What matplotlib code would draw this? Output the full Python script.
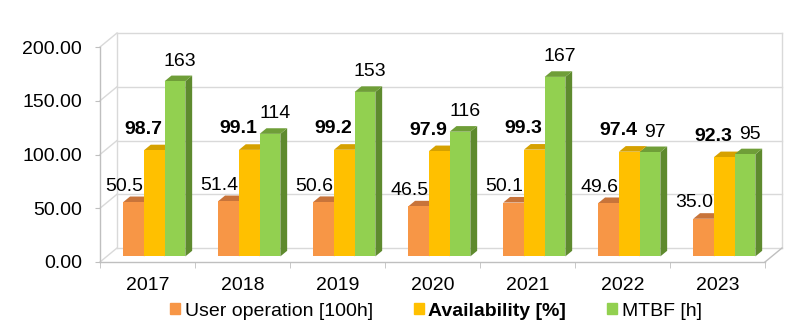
import matplotlib
matplotlib.use("Agg")
import matplotlib.pyplot as plt
from matplotlib.patches import Polygon, Patch

plt.rcParams['font.family'] = ['Liberation Sans', 'DejaVu Sans']

# data
years = ['2017', '2018', '2019', '2020', '2021', '2022', '2023']
user_op = [50.5, 51.4, 50.6, 46.5, 50.1, 49.6, 35.0]
avail = [98.7, 99.1, 99.2, 97.9, 99.3, 97.4, 92.3]
mtbf = [163, 114, 153, 116, 167, 97, 95]
labels = ['User operation [100h]', 'Availability [%]', 'MTBF [h]']
yticks = [0, 50, 100, 150, 200]

# colours: front, top, side
cols = [('#F79646', '#C8743A', '#B3622C'),
        ('#FFC000', '#D6A100', '#C79400'),
        ('#92D050', '#6F9E38', '#5E8A2E')]

W, H = 807, 330
fig = plt.figure(figsize=(W / 100, H / 100), dpi=100)
L, R, B, T = 100, 765, 262, 47
ax = fig.add_axes([L / W, (H - B) / H, (R - L) / W, (B - T) / H])
ax.set_xlim(-0.5, 6.5)
ax.set_ylim(0, 200)
xpx = 7.0 / (R - L)      # data units per pixel
ypx = 200.0 / (B - T)

DX, DY = 17 * xpx, 14 * ypx       # depth of the box
grid_c = '#d9d9d9'
edge_c = '#bfbfbf'
x0, x1 = -0.5, 6.5
FS = 14

# walls
for v in yticks:
    ax.plot([x0, x0 + DX], [v, v + DY], color=grid_c, lw=1, clip_on=False, zorder=1)
    ax.plot([x0 + DX, x1 + DX], [v + DY, v + DY], color=grid_c, lw=1, clip_on=False, zorder=1)
ax.plot([x0 + DX, x0 + DX], [DY, 200 + DY], color=grid_c, lw=1, clip_on=False, zorder=1)
ax.plot([x1 + DX, x1 + DX], [DY, 200 + DY], color=grid_c, lw=1, clip_on=False, zorder=1)
ax.plot([x0, x0], [0, 200], color=edge_c, lw=1, clip_on=False, zorder=1)
ax.plot([x0, x1], [0, 0], color=edge_c, lw=1, clip_on=False, zorder=1)
ax.plot([x1, x1 + DX], [0, DY], color=edge_c, lw=1, clip_on=False, zorder=1)

# bars
bw = 0.218
f0, f1 = 0.4, 0.8   # depth position of bar front/back
series = [user_op, avail, mtbf]
for i in range(len(years)):
    for s, vals in enumerate(series):
        v = vals[i]
        xl = i - 1.5 * bw + s * bw + f0 * DX
        yb = f0 * DY
        ddx, ddy = (f1 - f0) * DX, (f1 - f0) * DY
        front, top, side = cols[s]
        z = 2 + i * 3 + s
        ax.add_patch(Polygon([(xl + bw, yb), (xl + bw + ddx, yb + ddy),
                              (xl + bw + ddx, yb + v + ddy), (xl + bw, yb + v)],
                             closed=True, fc=side, ec='none', zorder=z, clip_on=False))
        ax.add_patch(Polygon([(xl, yb + v), (xl + bw, yb + v),
                              (xl + bw + ddx, yb + v + ddy), (xl + ddx, yb + v + ddy)],
                             closed=True, fc=top, ec='none', zorder=z, clip_on=False))
        ax.bar(xl, v, width=bw, bottom=yb, align='edge', color=front,
               zorder=z, clip_on=False)

# value labels (offsets in px from front top centre)
offs = [(-9, 16), (-11, 21), (5, 20)]
fmts = ['{:.1f}', '{:.1f}', '{:.0f}']
for s, vals in enumerate(series):
    for i, v in enumerate(vals):
        xc = i - 1.5 * bw + s * bw + f0 * DX + bw / 2
        yt = f0 * DY + v
        ax.annotate(fmts[s].format(v), (xc, yt),
                    xytext=(offs[s][0] * 0.72, offs[s][1] * 0.72),
                    textcoords='offset points', ha='center', va='center',
                    fontsize=FS, fontweight='bold' if s == 1 else 'normal',
                    color='black', zorder=50, annotation_clip=False)

for sp in ax.spines.values():
    sp.set_visible(False)
ax.set_yticks(yticks)
ax.set_yticklabels(['{:.2f}'.format(v) for v in yticks])
ax.set_xticks(range(len(years)))
ax.set_xticklabels(years)
ax.set_xticks([k - 0.5 for k in range(len(years) + 1)], minor=True)
ax.tick_params(axis='y', length=3.6, color=edge_c, direction='out', pad=9.4, labelsize=FS)
ax.tick_params(axis='x', which='major', length=0, pad=11, labelsize=FS)
ax.tick_params(axis='x', which='minor', length=4.3, color=edge_c, direction='out')
ax.set_facecolor('none')

handles = [Patch(color=c[0]) for c in cols]
leg = fig.legend(handles, labels, loc='center', bbox_to_anchor=(436 / W, 1 - 311 / H),
                 ncol=3, frameon=False, fontsize=FS, handlelength=0.5, handleheight=0.5,
                 handletextpad=0.25, columnspacing=2.1, borderpad=0)
leg.get_texts()[1].set_fontweight('bold')

fig.savefig('out.png', dpi=100)
